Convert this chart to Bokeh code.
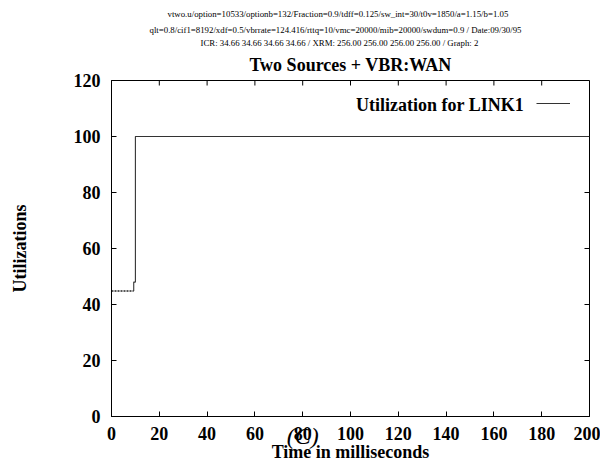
from bokeh.plotting import figure
from bokeh.models import (Label, Range1d, Legend, LegendItem, FixedTicker,
                          Title, LinearAxis)
from bokeh.embed import file_html
from bokeh.resources import INLINE

# ---- data ----
x_ticks = [0, 20, 40, 60, 80, 100, 120, 140, 160, 180, 200]
y_ticks = [0, 20, 40, 60, 80, 100, 120]

time_start = [0.0, 9.3]
util_start = [44.8, 44.8]
time_main = [9.3, 9.3, 10.0, 10.0, 200.0]
util_main = [44.8, 48.0, 48.0, 100.0, 100.0]

header_lines = [
    "vtwo.u/option=10533/optionb=132/Fraction=0.9/tdff=0.125/sw_int=30/t0v=1850/a=1.15/b=1.05",
    "qlt=0.8/cif1=8192/xdf=0.5/vbrrate=124.416/rttq=10/vmc=20000/mib=20000/swdum=0.9 / Date:09/30/95",
    "ICR: 34.66 34.66 34.66 34.66 / XRM: 256.00 256.00 256.00 256.00 / Graph: 2",
]
title_text = "Two Sources + VBR:WAN"
series_name = "Utilization for LINK1"
x_label = "Time in milliseconds"
y_label = "Utilizations"
panel_tag = "(C)"

FONT = "Liberation Serif"
X0, X1, Y0, Y1 = 0, 200, 0, 120
FW, FH = 478, 336
header_offsets = [56, 38, 89]  # left indent of each header line, px
TAG_X = 80  # where the "(C)" tag sits along the time axis

p = figure(width=600, height=460, output_backend="svg", toolbar_location=None,
           title=None,
           x_range=Range1d(X0, X1), y_range=Range1d(Y0, Y1),
           min_border_left=111, min_border_right=11, min_border_top=80,
           min_border_bottom=0, x_axis_label=x_label, y_axis_label=y_label)
p.frame_width = FW
p.frame_height = FH
p.xgrid.visible = False
p.ygrid.visible = False
p.outline_line_color = "black"
p.outline_line_width = 1
p.background_fill_color = "white"
p.border_fill_color = "white"

for ax in [p.xaxis[0], p.yaxis[0]]:
    ax.major_tick_in = 5
    ax.major_tick_out = 0
    ax.minor_tick_in = 0
    ax.minor_tick_out = 0
    ax.major_label_text_font = FONT
    ax.major_label_text_font_style = "bold"
    ax.major_label_text_font_size = "18px"
    ax.major_label_text_color = "black"
    ax.axis_label_text_font = FONT
    ax.axis_label_text_font_style = "bold"
    ax.axis_label_text_font_size = "18px"
    ax.axis_label_text_color = "black"
    ax.axis_line_color = "black"

p.xaxis[0].ticker = FixedTicker(ticks=x_ticks)
p.yaxis[0].ticker = FixedTicker(ticks=y_ticks)
p.xaxis[0].major_label_standoff = 10
p.xaxis[0].axis_label_standoff = -1
p.yaxis[0].major_label_standoff = 11
p.yaxis[0].axis_label_standoff = 41

# "(C)" tag: an extra bottom axis whose single tick label is the tag,
# pulled up so it overlaps the main axis labels as in the original
tag_axis = LinearAxis(ticker=FixedTicker(ticks=[TAG_X]),
                      major_label_overrides={TAG_X: panel_tag},
                      axis_line_color=None,
                      major_tick_in=0, major_tick_out=0, minor_tick_in=0,
                      minor_tick_out=0, major_tick_line_color=None,
                      major_label_standoff=-42,
                      major_label_text_font=FONT,
                      major_label_text_font_style="italic",
                      major_label_text_font_size="24px",
                      major_label_text_color="black")
p.add_layout(tag_axis, "below")

# mirror ticks on top and right edges (5 px long, inward)
tick_dy = 5 * (Y1 - Y0) / FH
tick_dx = 5 * (X1 - X0) / FW
p.segment(x0=x_ticks, y0=[Y1] * len(x_ticks), x1=x_ticks,
          y1=[Y1 - tick_dy] * len(x_ticks), line_color="black", line_width=1)
p.segment(x0=[X1] * len(y_ticks), y0=y_ticks, x1=[X1 - tick_dx] * len(y_ticks),
          y1=y_ticks, line_color="black", line_width=1)

# data lines
p.line(time_start, util_start, line_color="#222222", line_width=1.5,
       line_dash="2 1")
r_main = p.line(time_main, util_main, line_color="#333333", line_width=1.1)

# legend: text then sample line
p.add_layout(Label(x=172.6, y=111.3, text=series_name, text_font=FONT,
                   text_font_style="bold", text_font_size="18px",
                   text_align="right", text_baseline="middle",
                   text_color="black"))
leg = Legend(items=[LegendItem(label=" ", renderers=[r_main])],
             location=(425, 308), padding=0, margin=0, spacing=0,
             glyph_width=34, glyph_height=10, label_width=0,
             label_standoff=0, label_text_font_size="1px",
             border_line_color=None, background_fill_alpha=0)
p.add_layout(leg, "center")

# title (closest to the frame) and header lines stacked above it
p.add_layout(Title(text=title_text, align="center", text_font=FONT,
                   text_font_style="bold", text_font_size="18px",
                   text_color="black", standoff=11), "above")
for i, (line, off) in reversed(list(enumerate(zip(header_lines, header_offsets)))):
    p.add_layout(Title(text=line, align="left", offset=off, text_font=FONT,
                       text_font_style="normal", text_font_size="8.8px",
                       text_color="black", standoff=-1 if i == 2 else 4),
                 "above")

open("out.html", "w").write(file_html(p, INLINE))
